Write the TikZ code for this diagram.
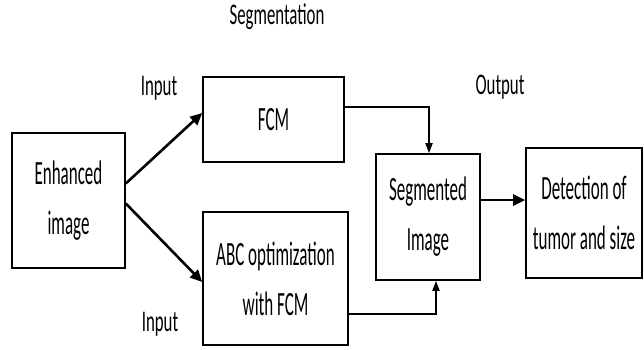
\documentclass[tikz,border=0pt]{standalone}
\usepackage{fontspec}
\setmainfont{Carlito}
\usepackage{graphicx}
\usetikzlibrary{arrows.meta,calc}
\newcommand\nx[1]{\scalebox{0.5}[1]{#1}}
\newcommand\lx[1]{\scalebox{0.56}[1]{#1}}
\begin{document}
\begin{tikzpicture}[x=1pt,y=-1pt,
 box/.style={draw,line width=1.6pt,inner sep=0pt,align=center,font=\fontsize{34}{50}\selectfont},
 lab/.style={inner sep=0pt,font=\fontsize{30}{30}\selectfont},
 conn/.style={line width=1.8pt,-{Triangle[length=10pt,width=7pt]}},
 bigarrow/.style={line width=2.6pt,-{Triangle[length=12pt,width=11pt]}}]
\useasboundingbox (0,0) rectangle (644,349);
\node[box,minimum width=113pt,minimum height=135pt] (enh) at (68.5,200.5) {\nx{Enhanced}\\\nx{image}};
\node[box,minimum width=141pt,minimum height=85pt] (fcm) at (273.5,119.5) {\nx{FCM}};
\node[box,minimum width=145pt,minimum height=133pt] (abc) at (275.5,278.5) {\nx{ABC optimization}\\\nx{with FCM}};
\node[box,minimum width=104pt,minimum height=126pt] (seg) at (428,217) {\nx{Segmented}\\\nx{Image}};
\node[box,minimum width=116pt,minimum height=130pt] (det) at (584,213) {\nx{Detection of}\\\nx{tumor and size}};
\node[lab] (tseg) at (277,17) {\lx{Segmentation}};
\node[lab] (tin1) at (159,88) {\lx{Input}};
\node[lab] (tin2) at (160,324) {\lx{Input}};
\node[lab] (tout) at (500,87) {\lx{Output}};
\draw[bigarrow] ($(enh.east)+(0,-17)$) -- ($(fcm.west)+(0,-6.5)$);
\draw[bigarrow] ($(enh.east)+(0,3)$) -- ($(abc.west)+(0,3.5)$);
\draw[conn] ($(fcm.east)+(0,-12.5)$) -| ($(seg.north)+(1,0)$);
\draw[conn] ($(abc.east)+(0,35.5)$) -| ($(seg.south)+(8,0)$);
\draw[bigarrow] ($(seg.east)+(0,-17)$) -- ($(det.west)+(0,-13)$);
\end{tikzpicture}
\end{document}
